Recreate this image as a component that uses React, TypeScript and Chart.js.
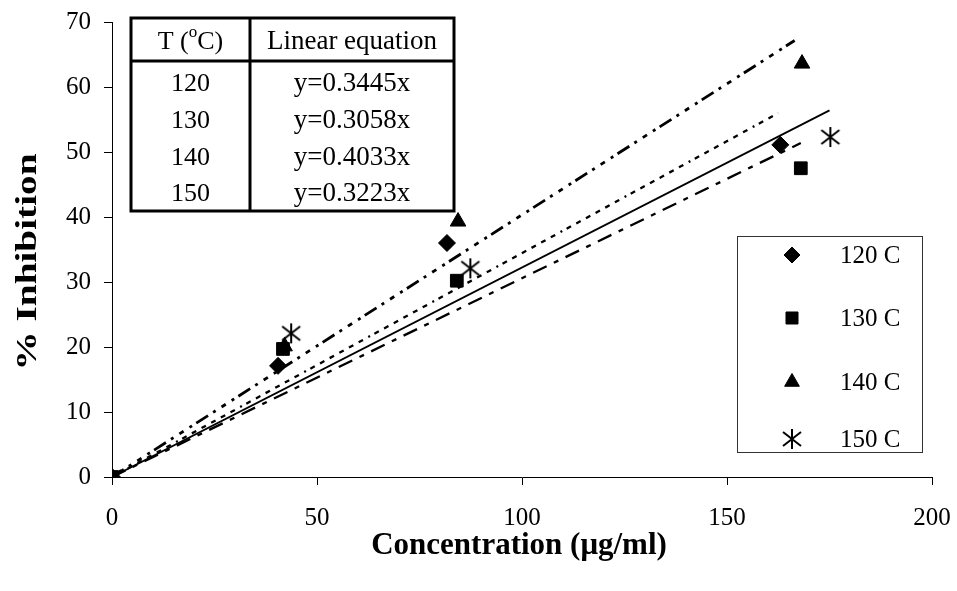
import React, { useEffect, useRef } from "react";
import { Chart, registerables } from "chart.js";
import { drawPoint } from "chart.js/helpers";

Chart.register(...registerables);

// ---- data ----
const seriesLabels = ["120 C", "130 C", "140 C", "150 C"];
const tableTemps = ["120", "130", "140", "150"];
const tableEquations = ["y=0.3445x", "y=0.3058x", "y=0.4033x", "y=0.3223x"];
const slopes = [0.3445, 0.3058, 0.4033, 0.3223];
const trendEndX = [162.5, 168, 166.5, 175];

const conc120 = [0, 40.5, 81.7, 163];
const inh120 = [0, 17.1, 36.0, 51.1];
const conc130 = [0, 41.7, 84.1, 168];
const inh130 = [0, 19.7, 30.2, 47.5];
const conc140 = [0, 42.1, 84.4, 168.3];
const inh140 = [0, 20.1, 39.3, 63.6];
const conc150 = [0, 43.7, 87.4, 175.2];
const inh150 = [0, 22.1, 32.1, 52.3];

const xTicks = [0, 50, 100, 150, 200];
const yTicks = [0, 10, 20, 30, 40, 50, 60, 70];

const SERIF = "'Liberation Serif', 'Times New Roman', serif";

function makeAsterisk(): HTMLCanvasElement {
  const c = document.createElement("canvas");
  c.width = 22;
  c.height = 22;
  const g = c.getContext("2d")!;
  g.strokeStyle = "#000";
  g.lineWidth = 2;
  g.beginPath();
  g.moveTo(11, 1);
  g.lineTo(11, 21);
  g.moveTo(2, 4);
  g.lineTo(20, 18);
  g.moveTo(20, 4);
  g.lineTo(2, 18);
  g.stroke();
  return c;
}

export default function App() {
  const ref = useRef<HTMLCanvasElement | null>(null);

  useEffect(() => {
    const canvas = ref.current!;
    const asterisk = makeAsterisk();
    const styles: any[] = ["rectRot", "rect", "triangle", asterisk];
    const radii = [8.5, 9, 9, 10];
    const xs = [conc120, conc130, conc140, conc150];
    const ys = [inh120, inh130, inh140, inh150];
    const dashes = [
      [2, 5, 5, 6, 5, 6, 5, 6, 5, 6, 5, 6, 5, 6],
      [15, 8, 5, 8],
      [14, 6, 3, 7, 5, 7, 3, 5],
      [],
    ];
    const widths = [2.3, 2.3, 2.8, 1.8];

    const trendSets = slopes.map((s, i) => ({
      type: "line" as const,
      label: "trend " + seriesLabels[i],
      data: [
        { x: 0, y: 0 },
        { x: trendEndX[i], y: s * trendEndX[i] },
      ],
      borderColor: "#000",
      borderWidth: widths[i],
      borderDash: dashes[i],
      pointRadius: 0,
      showLine: true,
      fill: false,
    }));

    const pointSets = xs.map((arr, i) => ({
      type: "scatter" as const,
      label: seriesLabels[i],
      data: arr.map((x, j) => ({ x, y: ys[i][j] })),
      pointStyle: styles[i],
      pointRadius: radii[i],
      backgroundColor: "#000",
      borderColor: "#000",
      borderWidth: 1,
      showLine: false,
    }));

    const overlay = {
      id: "overlay",
      afterDraw(chart: any) {
        const ctx = chart.ctx as CanvasRenderingContext2D;
        ctx.save();
        ctx.fillStyle = "#000";
        ctx.strokeStyle = "#000";

        // --- table ---
        const tl = 131, tr = 454, tt = 18, tb = 211, colX = 250, headY = 61;
        ctx.fillStyle = "#fff";
        ctx.fillRect(tl, tt, tr - tl, tb - tt);
        ctx.fillStyle = "#000";
        ctx.lineWidth = 3;
        ctx.strokeRect(tl, tt, tr - tl, tb - tt);
        ctx.beginPath();
        ctx.moveTo(colX, tt);
        ctx.lineTo(colX, tb);
        ctx.moveTo(tl, headY);
        ctx.lineTo(tr, headY);
        ctx.stroke();

        const TF = 26;
        ctx.font = `${TF}px ${SERIF}`;
        ctx.textBaseline = "middle";
        ctx.textAlign = "left";
        const c1 = (tl + colX) / 2;
        const c2 = (colX + tr) / 2;
        // header T (oC)
        const part1 = "T (";
        const part3 = "C)";
        const w1 = ctx.measureText(part1).width;
        const w3 = ctx.measureText(part3).width;
        ctx.font = `17px ${SERIF}`;
        const w2 = ctx.measureText("o").width;
        const total = w1 + w2 + w3;
        const hx = c1 - total / 2;
        ctx.font = `${TF}px ${SERIF}`;
        ctx.fillText(part1, hx, 42);
        ctx.font = `17px ${SERIF}`;
        ctx.fillText("o", hx + w1, 33);
        ctx.font = `${TF}px ${SERIF}`;
        ctx.fillText(part3, hx + w1 + w2, 42);
        ctx.textAlign = "center";
        ctx.font = `27px ${SERIF}`;
        ctx.fillText("Linear equation", c2, 42);
        const rowY = [84, 121, 158, 194];
        tableTemps.forEach((t, i) => {
          ctx.font = `${TF}px ${SERIF}`;
          ctx.fillText(t, c1, rowY[i]);
          ctx.font = `27px ${SERIF}`;
          ctx.fillText(tableEquations[i], c2, rowY[i]);
        });

        // --- legend ---
        ctx.lineWidth = 1;
        ctx.strokeStyle = "#333";
        ctx.strokeRect(737.5, 236.5, 185, 216);
        const legY = [255, 318, 382, 439];
        seriesLabels.forEach((lab, i) => {
          ctx.fillStyle = "#000";
          ctx.strokeStyle = "#000";
          drawPoint(
            ctx,
            {
              pointStyle: styles[i],
              radius: i === 3 ? 10 : radii[i] - 0.5,
              borderWidth: 1,
              rotation: 0,
            } as any,
            792,
            legY[i]
          );
          ctx.font = `25px ${SERIF}`;
          ctx.textAlign = "left";
          ctx.textBaseline = "middle";
          ctx.fillText(lab, 840, legY[i] + 1);
        });

        // --- axis titles ---
        ctx.fillStyle = "#000";
        ctx.font = `bold 31px ${SERIF}`;
        ctx.textAlign = "center";
        ctx.textBaseline = "middle";
        ctx.fillText("Concentration (\u03bcg/ml)", 519, 546);

        ctx.font = `bold 30px ${SERIF}`;
        const yt = "% Inhibition";
        const ytw = ctx.measureText(yt).width;
        ctx.save();
        ctx.translate(28, 262);
        ctx.rotate(-Math.PI / 2);
        ctx.scale(217 / ytw, 1);
        ctx.fillText(yt, 0, 0);
        ctx.restore();

        ctx.restore();
      },
    };

    const chart = new Chart(canvas, {
      type: "scatter",
      data: { datasets: [...trendSets, ...pointSets] as any },
      options: {
        animation: false,
        responsive: false,
        devicePixelRatio: 1,
        layout: { padding: { left: 0, right: 25, top: 22, bottom: 0 } },
        plugins: { legend: { display: false }, tooltip: { enabled: false } },
        scales: {
          x: {
            type: "linear",
            min: 0,
            max: 200,
            afterBuildTicks: (s: any) => {
              s.ticks = xTicks.map((v) => ({ value: v }));
            },
            afterFit: (s: any) => {
              s.height = 114;
              s.paddingLeft = 0;
              s.paddingRight = 0;
            },
            ticks: {
              color: "#000",
              font: { family: SERIF, size: 25 },
              padding: 18,
              maxRotation: 0,
            },
            border: { color: "#000", width: 1 },
            grid: {
              drawOnChartArea: false,
              drawTicks: true,
              tickLength: 8,
              color: "#000",
            },
          },
          y: {
            type: "linear",
            min: 0,
            max: 70,
            afterBuildTicks: (s: any) => {
              s.ticks = yTicks.map((v) => ({ value: v }));
            },
            afterFit: (s: any) => {
              s.width = 112;
              s.paddingTop = 0;
              s.paddingBottom = 0;
            },
            ticks: {
              color: "#000",
              font: { family: SERIF, size: 25 },
              padding: 13,
            },
            border: { color: "#000", width: 1 },
            grid: {
              drawOnChartArea: false,
              drawTicks: true,
              tickLength: 8,
              color: "#000",
            },
          },
        },
      },
      plugins: [overlay],
    } as any);

    return () => chart.destroy();
  }, []);

  return (
    <div style={{ position: "fixed", left: 0, top: 0, width: 957, height: 591, background: "#fff" }}>
      <canvas ref={ref} width={957} height={591} style={{ width: 957, height: 591, display: "block" }} />
    </div>
  );
}
